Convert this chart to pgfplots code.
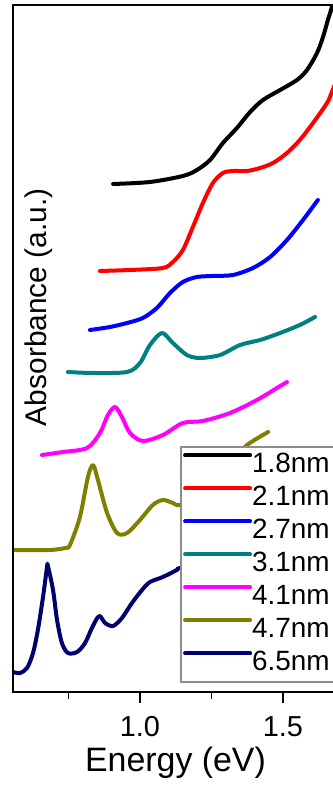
\documentclass[border=0pt]{standalone}
\usepackage{fontspec}
\setmainfont{Liberation Sans}
\usepackage{pgfplots}
\pgfplotsset{compat=1.18}

\definecolor{cblack}{RGB}{0,0,0}
\definecolor{cred}{RGB}{255,0,0}
\definecolor{cblue}{RGB}{0,0,255}
\definecolor{cteal}{RGB}{0,128,128}
\definecolor{cmag}{RGB}{255,0,255}
\definecolor{colive}{RGB}{128,128,0}
\definecolor{cnavy}{RGB}{0,0,110}
\definecolor{cframe}{RGB}{140,140,140}

% legend entry set in a fixed-width box
\newcommand{\lent}[1]{\makebox[90bp][l]{#1}}

\begin{document}
\begin{tikzpicture}
\path[use as bounding box] (-13bp,-98bp) rectangle (320bp,692bp);
\begin{axis}[
  at={(0,0)}, anchor=south west,
  scale only axis, width=325bp, height=687bp,
  xmin=0.556, xmax=1.6924, ymin=0, ymax=687,
  axis on top,
  axis line style={line width=2.2bp},
  xtick={1.0,1.5}, xticklabels={1.0,1.5},
  minor xtick={0.75,1.25},
  xtick pos=left, tick align=outside,
  major tick length=11bp, minor tick length=7bp,
  major tick style={black, line width=1.8bp},
  minor tick style={black, line width=1.8bp},
  ytick=\empty,
  xticklabel style={font=\fontsize{29}{30}\selectfont, yshift=-10bp},
  xlabel={Energy (eV)},
  xlabel style={font=\fontsize{34}{36}\selectfont, yshift=-3bp},
  ylabel={Absorbance (a.u.)},
  ylabel style={at={(axis description cs:0.08,0.56)}, anchor=center,
                font=\fontsize{30}{32}\selectfont},
  legend cell align=left,
  legend image code/.code={\draw[#1] (0bp,10bp) -- (65bp,10bp);},
  legend style={at={(axis description cs:0.5138,0.0131)}, anchor=south west,
    draw=cframe, line width=2.2bp, fill=white, inner sep=2bp,
    row sep=0pt, font=\fontsize{28}{34}\selectfont,
    nodes={inner sep=0pt, text height=24bp, text depth=9bp},
    /tikz/every even column/.append style={column sep=3bp}},
  every axis plot/.append style={line width=4bp, line join=round,
    line cap=round, smooth, tension=0.5},
]
% 1.8 nm
\addplot[cblack] coordinates {
(0.906,508) (1.035,510) (1.150,516) (1.199,522) (1.245,532) (1.290,549)
(1.339,564) (1.385,580) (1.430,592) (1.490,602) (1.549,612) (1.584,622)
(1.619,639) (1.640,655) (1.657,672) (1.671,685) (1.680,700)};
\addlegendentry{\lent{1.8nm}}
% 2.1 nm
\addplot[cred] coordinates {
(0.860,421) (0.965,422) (1.080,424) (1.115,430) (1.150,442) (1.185,465)
(1.220,489) (1.255,509) (1.290,519) (1.325,521) (1.374,521) (1.420,524)
(1.465,529) (1.514,539) (1.559,552) (1.605,569) (1.654,589) (1.671,600)
(1.685,610)};
\addlegendentry{\lent{2.1nm}}
% 2.7 nm
\addplot[cblue] coordinates {
(0.825,362) (0.895,365) (0.955,369) (1.010,374) (1.059,384) (1.105,399)
(1.150,410) (1.199,415) (1.255,416) (1.325,417) (1.395,424) (1.455,435)
(1.514,452) (1.570,472) (1.622,492)};
\addlegendentry{\lent{2.7nm}}
% 3.1 nm
\addplot[cteal] coordinates {
(0.748,320) (0.836,319) (0.955,320) (1.000,329) (1.035,347) (1.077,359)
(1.115,349) (1.164,337) (1.210,334) (1.280,337) (1.350,347) (1.420,352)
(1.490,359) (1.559,367) (1.612,375)};
\addlegendentry{\lent{3.1nm}}
% 4.1 nm
\addplot[cmag] coordinates {
(0.657,237) (0.731,240) (0.815,244) (0.860,259) (0.888,277) (0.913,285)
(0.937,275) (0.965,259) (1.010,251) (1.080,257) (1.150,269) (1.220,271)
(1.315,279) (1.409,292) (1.479,304) (1.514,310)};
\addlegendentry{\lent{4.1nm}}
% 4.7 nm
\addplot[colive] coordinates {
(0.556,142) (0.685,142) (0.738,144) (0.755,147) (0.790,175) (0.818,215)
(0.836,227) (0.853,212) (0.885,179) (0.920,159) (0.955,159) (1.000,172)
(1.045,187) (1.080,192) (1.115,189) (1.140,187) (1.210,197) (1.280,214)
(1.350,237) (1.374,247) (1.448,260)};
\addlegendentry{\lent{4.7nm}}
% 6.5 nm
\addplot[cnavy] coordinates {
(0.556,20) (0.580,19) (0.605,24) (0.626,39) (0.643,62) (0.661,95)
(0.675,125) (0.678,126) (0.696,102) (0.710,72) (0.727,49) (0.748,39)
(0.780,40) (0.808,49) (0.832,64) (0.857,76) (0.878,69) (0.906,66)
(0.937,74) (0.972,89) (1.007,102) (1.035,110) (1.080,115) (1.129,122)
(1.140,124) (1.250,130) (1.350,140) (1.450,150)};
\addlegendentry{\lent{6.5nm}}
\end{axis}
\end{tikzpicture}
\end{document}
